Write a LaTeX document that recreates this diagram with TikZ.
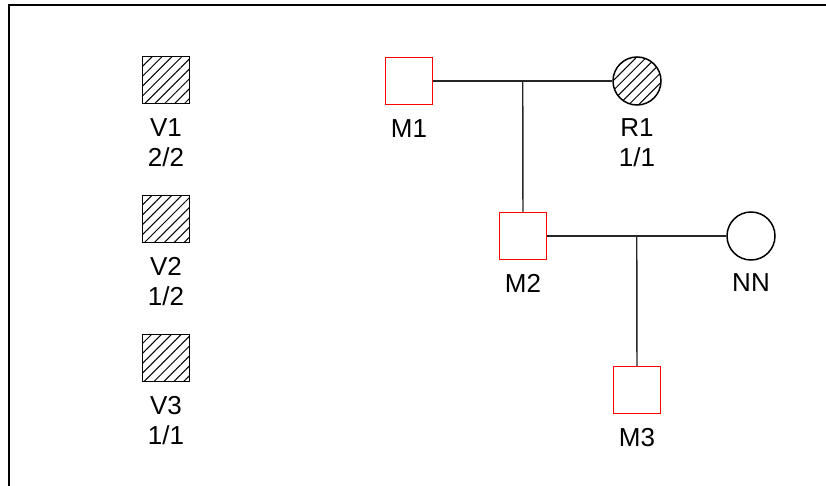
\documentclass[tikz,border=0pt]{standalone}
\usepackage{fontspec}
\setmainfont{Liberation Sans}
\usetikzlibrary{positioning,patterns.meta}

\begin{document}
\begin{tikzpicture}[
        x=1pt, y=-1pt,
        font=\fontsize{26}{30}\selectfont,
        node distance=14pt,
        hatch/.style={pattern={Lines[angle=45, distance=7pt, line width=1pt]}},
        male/.style={rectangle, draw=red, line width=1.5pt, minimum size=47pt, inner sep=0pt},
        carrier/.style={rectangle, draw, line width=1.5pt, minimum size=47pt, inner sep=0pt, hatch},
        female/.style={circle, draw, line width=1.5pt, minimum size=48pt, inner sep=0pt},
        lbl/.style={align=center, inner sep=0pt},
        link/.style={line width=1.4pt, draw=black!85}
    ]
    \useasboundingbox (0,0) rectangle (826,486);

    % Frame
    \draw[line width=2pt] (8.5,486) -- (8.5,5) -- (826,5);

    % Legend
    \node[carrier] (v1) at (166,80) {};
    \node[lbl, below=of v1] (v1lbl) {V1\\2/2};
    \node[carrier] (v2) at (166,219) {};
    \node[lbl, below=of v2] (v2lbl) {V2\\1/2};
    \node[carrier] (v3) at (166,358) {};
    \node[lbl, below=of v3] (v3lbl) {V3\\1/1};

    % Pedigree
    \node[male] (m1) at (409,81) {};
    \node[lbl, below=of m1] (m1lbl) {M1};
    \node[female, hatch] (r1) at (637,81) {};
    \node[lbl, below=13pt of r1] (r1lbl) {R1\\1/1};

    \node[male] (m2) at (523,236) {};
    \node[lbl, below=of m2] (m2lbl) {M2};
    \node[female] (nn) at (751,236) {};
    \node[lbl, below=13pt of nn] (nnlbl) {NN};

    \node[male] (m3) at (637,390) {};
    \node[lbl, below=of m3] (m3lbl) {M3};

    % Lines
    \draw[link] (m1) -- coordinate (u1) (r1);
    \draw[link] (u1) -- (m2);
    \draw[link] (m2) -- coordinate (u2) (nn);
    \draw[link] (u2) -- (m3);

\end{tikzpicture}
\end{document}
